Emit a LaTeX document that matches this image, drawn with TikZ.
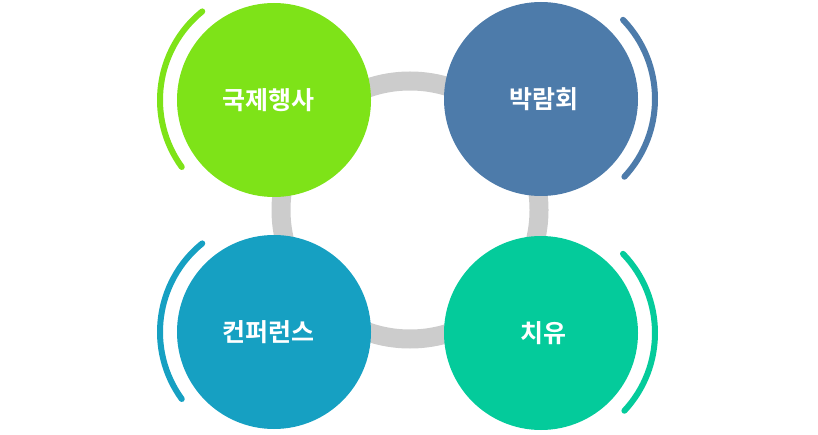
\documentclass[tikz,border=0pt]{standalone}
\usepackage{fontspec}
\newfontfamily\krfont{Noto Sans CJK KR}[BoldFont={Noto Sans CJK KR Bold}]
\definecolor{cgreen}{HTML}{7EE318}
\definecolor{cblue}{HTML}{4D7BAA}
\definecolor{cteal}{HTML}{16A0C2}
\definecolor{cmint}{HTML}{04CB9B}
\definecolor{cgray}{HTML}{CCCCCC}
\begin{document}
\begin{tikzpicture}[x=1pt,y=1pt,
  bubble/.style={circle, inner sep=0pt, minimum size=194pt, text=white,
    font=\krfont\bfseries\fontsize{25}{28}\selectfont},
  ring/.style={draw=cgray, line width=19pt},
  sidearc/.style={line width=6pt, line cap=round}]
\useasboundingbox (0,0) rectangle (818,434);
\coordinate (rc) at (410,224);
\draw[ring] (rc) circle[radius=129];
\node[bubble, fill=cgreen] (tl) at (274,334) {\raisebox{-3pt}{\hspace{-11pt}국제행사}};
\node[bubble, fill=cblue]  (tr) at (541,335) {\raisebox{-3pt}{\hspace{5pt}박람회}};
\node[bubble, fill=cteal]  (bl) at (274,102) {\raisebox{-4pt}{\hspace{-11pt}컨퍼런스}};
\node[bubble, fill=cmint]  (br) at (541,101) {\raisebox{-6pt}{\hspace{5pt}치유}};
\draw[sidearc, cgreen] (tl) ++(129:114) arc[start angle=129, end angle=216, radius=114];
\draw[sidearc, cteal]  (bl) ++(129:114) arc[start angle=129, end angle=216, radius=114];
\draw[sidearc, cblue]  (tr) ++(-43:114) arc[start angle=-43, end angle=44, radius=114];
\draw[sidearc, cmint]  (br) ++(-43:114) arc[start angle=-43, end angle=44, radius=114];
\end{tikzpicture}
\end{document}
